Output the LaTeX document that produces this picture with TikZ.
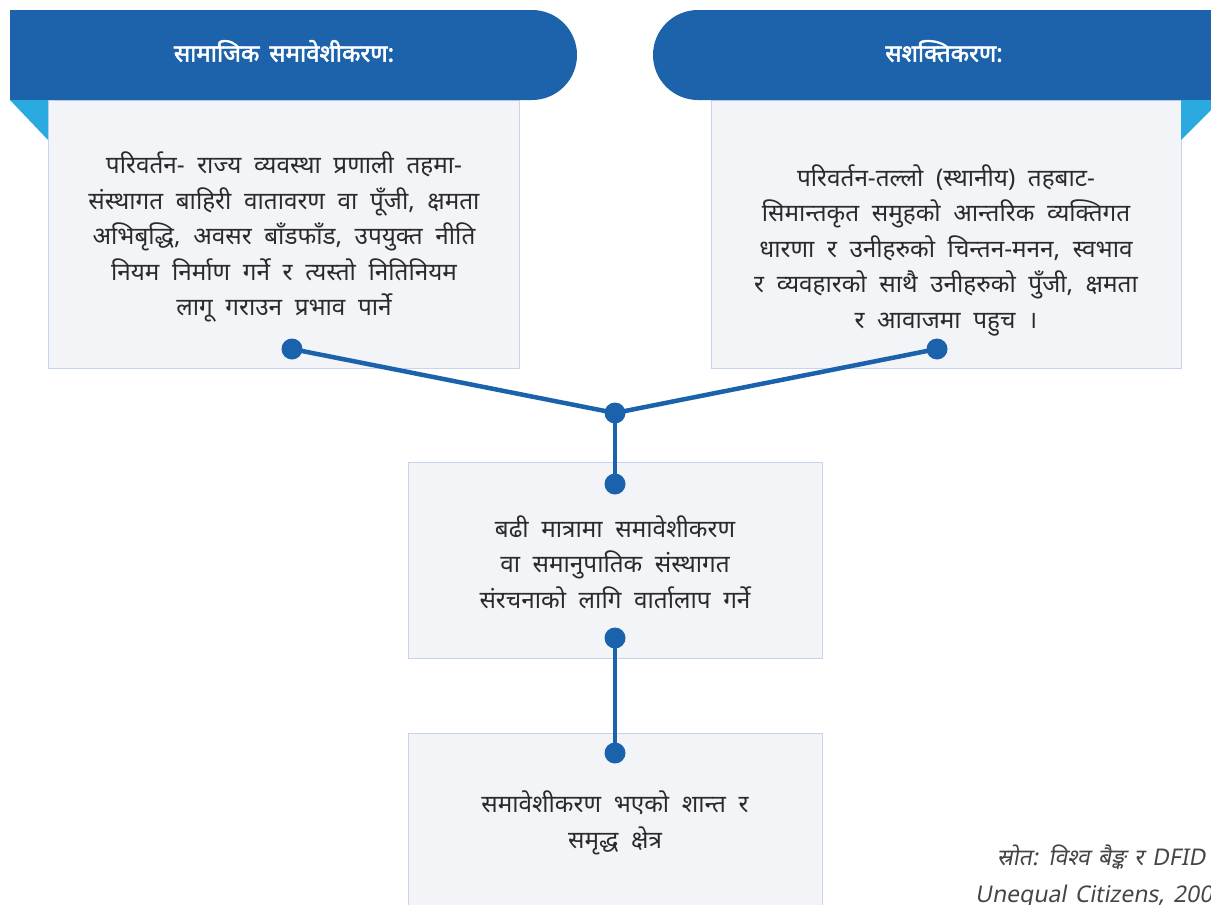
\documentclass[tikz,border=0pt]{standalone}
\usepackage{fontspec}
\newfontfamily\dev[Script=Devanagari,WordSpace=2]{Noto Sans}
\newfontfamily\devbf[Script=Devanagari,FakeBold=2.2,WordSpace=1.6]{Noto Sans}
\newfontfamily\devit[Script=Devanagari,FakeSlant=0.18,WordSpace=1.4]{Noto Sans}
\definecolor{hdrblue}{HTML}{1D63AB}
\definecolor{foldblue}{HTML}{2BAAE2}
\definecolor{boxfill}{HTML}{F3F4F7}
\definecolor{boxline}{HTML}{C8D4EE}
\definecolor{txt}{HTML}{2A2A2A}
\definecolor{linkblue}{HTML}{1B62AD}
\definecolor{srcgray}{HTML}{454545}
\begin{document}
\begin{tikzpicture}[x=1pt,y=-1pt,
  panel/.style={draw=boxline,line width=1pt,fill=boxfill,rectangle,inner sep=0pt,anchor=north west},
  body/.style={text=txt,align=center,font=\dev\fontsize{24.3}{35.5}\selectfont,inner sep=0pt},
  title/.style={text=white,font=\devbf\fontsize{24}{28}\selectfont,inner sep=0pt},
  dot/.style={circle,fill=linkblue,inner sep=0pt,minimum size=21pt},
  link/.style={draw=linkblue,line width=4.5pt},
  src/.style={text=srcgray,font=\devit\fontsize{23}{27}\selectfont,inner sep=0pt,anchor=west}]
\useasboundingbox (0,0) rectangle (1211,905);
\clip (0,0) rectangle (1211,905);
\fill[white] (0,0) rectangle (1211,905);
% panels
\node[panel,minimum width=471pt,minimum height=268pt] (boxL) at (48,100) {};
\node[panel,minimum width=470pt,minimum height=268pt] (boxR) at (711,100) {};
\node[panel,minimum width=414pt,minimum height=196pt] (boxM) at (408,462) {};
\node[panel,minimum width=414pt,minimum height=200pt] (boxB) at (408,733) {};
% headers
\fill[hdrblue,rounded corners=45pt] (10,10) rectangle (577,100);
\fill[hdrblue] (10,10) rectangle (300,100);
\fill[hdrblue,rounded corners=45pt] (653,10) rectangle (1260,100);
\fill[hdrblue] (900,10) rectangle (1260,100);
\fill[foldblue] (10,100) -- (48,100) -- (48,140) -- cycle;
\fill[foldblue] (1181,100) -- (1221,100) -- (1181,140) -- cycle;
\node[title] (tL) at (284,51) {सामाजिक समावेशीकरण:};
\node[title] (tR) at (944,51) {सशक्तिकरण:};
% texts
\node[body] (xL) at (284,237) {परिवर्तन- राज्य व्यवस्था प्रणाली तहमा-\\संस्थागत बाहिरी वातावरण वा पूँजी, क्षमता\\अभिबृद्धि, अवसर बाँडफाँड, उपयुक्त नीति\\नियम निर्माण गर्ने र त्यस्तो नितिनियम\\लागू गराउन प्रभाव पार्ने};
\node[body] (xR) at (946,250) {परिवर्तन-तल्लो (स्थानीय) तहबाट-\\सिमान्तकृत समुहको आन्तरिक व्यक्तिगत\\धारणा र उनीहरुको चिन्तन-मनन, स्वभाव\\र व्यवहारको साथै उनीहरुको पुँजी, क्षमता\\र आवाजमा पहुच ।};
\node[body] (xM) at (615,562) {बढी मात्रामा समावेशीकरण\\वा समानुपातिक संस्थागत\\संरचनाको लागि वार्तालाप गर्ने};
\node[body] (xB) at (615,823) {समावेशीकरण भएको शान्त र\\समृद्ध क्षेत्र};
% dots
\node[dot] (dL) at (292,349) {};
\node[dot] (dR) at (937,349) {};
\node[dot] (dJ) at (615,413) {};
\node[dot] (dM1) at (615,484) {};
\node[dot] (dM2) at (615,638) {};
\node[dot] (dB) at (615,753) {};
% links
\draw[link] (dL.center) -- (dJ.center);
\draw[link] (dR.center) -- (dJ.center);
\draw[link] (dJ.center) -- (dM1.center);
\draw[link] (dM2.center) -- (dB.center);
% source
\node[src] (s1) at (997,857) {स्रोत: विश्व बैङ्क र DFID};
\node[src] (s2) at (975,897) {Unequal Citizens, 2006};
\end{tikzpicture}
\end{document}
